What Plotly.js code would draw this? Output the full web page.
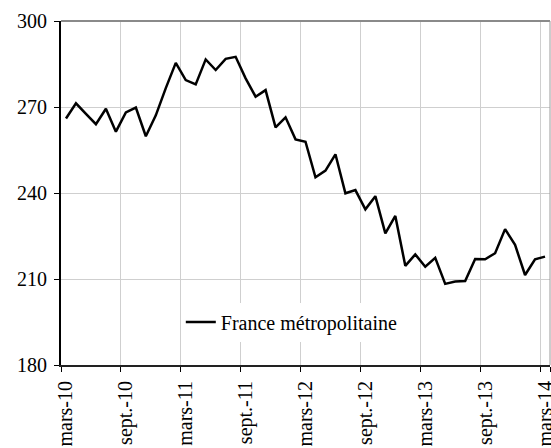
<!DOCTYPE html>
<html>
<head>
<meta charset="utf-8">
<script src="https://cdn.plot.ly/plotly-3.0.1.min.js"></script>
<style>html,body{margin:0;padding:0;background:#fff;font-family:"Liberation Serif",serif;}#chart{width:551px;height:448px;}</style>
</head>
<body>
<div id="chart"></div>
<script>
// Month labels, mars-10 .. mars-14
var monthNames = ["janv.","févr.","mars","avr.","mai","juin","juil.","août","sept.","oct.","nov.","déc."];
var categories = [];
for (var y = 10; y <= 14; y++) {
  for (var m = 0; m < 12; m++) {
    if (y === 10 && m < 2) continue;
    if (y === 14 && m > 2) break;
    categories.push(monthNames[m] + "-" + y);
  }
}
var seriesName = "France métropolitaine";
var values = [
  266.0, 271.3, 267.6, 264.0, 269.4, 261.4, 268.1, 269.8, 259.8, 267.1,
  276.6, 285.4, 279.4, 277.9, 286.6, 282.9, 286.8, 287.5, 280.0, 273.6,
  275.9, 262.9, 266.4, 258.7, 257.9, 245.5, 247.8, 253.5, 239.9, 241.0,
  234.3, 238.9, 225.9, 232.0, 214.6, 218.6, 214.3, 217.4, 208.3, 209.1,
  209.3, 217.0, 216.9, 219.0, 227.4, 221.9, 211.4, 216.9, 217.8
];
var tickLabels = ["mars-10","sept.-10","mars-11","sept.-11","mars-12","sept.-12","mars-13","sept.-13","mars-14"];
var yTicks = [180, 210, 240, 270, 300];

var font = {family: "Times New Roman", size: 20, color: "#000"};

Plotly.newPlot("chart", [{
  type: "scatter", mode: "lines",
  x: categories, y: values, name: seriesName,
  line: {color: "#000", width: 2.5},
  showlegend: true
}], {
  width: 551, height: 448,
  margin: {l: 61, r: 1, t: 21, b: 83},
  paper_bgcolor: "#fff", plot_bgcolor: "#fff",
  font: font,
  showlegend: true,
  legend: {
    x: 0.245, y: 0.125, xanchor: "left", yanchor: "middle",
    bgcolor: "#fff", borderwidth: 0, font: font
  },
  xaxis: {
    type: "category",
    range: [-0.5, categories.length - 0.5],
    tickmode: "array", tickvals: tickLabels, ticktext: tickLabels,
    tickson: "boundaries",
    tickangle: -90,
    ticks: "outside", ticklen: 5, tickcolor: "#000", tickwidth: 1,
    showgrid: true, gridcolor: "#cfcfcf", gridwidth: 1,
    showline: true, linecolor: "#222", linewidth: 2,
    zeroline: false,
    ticklabelstandoff: 6,
    tickfont: font, fixedrange: true
  },
  yaxis: {
    range: [180, 300],
    tickmode: "array", tickvals: yTicks,
    ticks: "outside", ticklen: 5, tickcolor: "#000", tickwidth: 1,
    showgrid: true, gridcolor: "#cfcfcf", gridwidth: 1,
    showline: true, linecolor: "#000", linewidth: 2,
    zeroline: false,
    ticklabelstandoff: 3,
    tickfont: font, fixedrange: true
  },
  shapes: [
    {type: "line", xref: "paper", yref: "paper", x0: 0, x1: 1, y0: 1, y1: 1, line: {color: "#8a8a8a", width: 2}},
    {type: "line", xref: "paper", yref: "paper", x0: 1, x1: 1, y0: 0, y1: 1, line: {color: "#9a9a9a", width: 1}}
  ]
}, {displayModeBar: false, staticPlot: true});
</script>
</body>
</html>
